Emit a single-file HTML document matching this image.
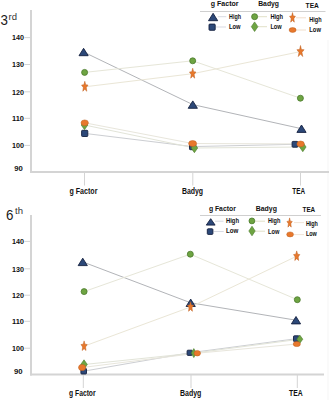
<!DOCTYPE html>
<html><head><meta charset="utf-8"><style>
html,body{margin:0;padding:0;background:#fff;width:329px;height:400px;overflow:hidden}
svg{display:block;font-family:"Liberation Sans",sans-serif}
</style></head><body>
<svg width="329" height="400" viewBox="0 0 329 400">
<rect width="329" height="400" fill="#fff"/>
<rect x="327.5" y="40" width="1" height="360" fill="#F6F6F6"/>
<rect x="30" y="10" width="2" height="163" fill="#D4D4D4"/>
<rect x="30" y="171" width="299" height="2" fill="#D4D4D4"/>
<rect x="24.5" y="37.10" width="5.5" height="1" fill="#D4D4D4"/>
<text x="24" y="40.30" font-size="7.4" font-weight="bold" text-anchor="end" fill="#111111" textLength="12" lengthAdjust="spacingAndGlyphs">140</text>
<rect x="24.5" y="64.00" width="5.5" height="1" fill="#D4D4D4"/>
<text x="24" y="67.20" font-size="7.4" font-weight="bold" text-anchor="end" fill="#111111" textLength="12" lengthAdjust="spacingAndGlyphs">130</text>
<rect x="24.5" y="91.30" width="5.5" height="1" fill="#D4D4D4"/>
<text x="24" y="94.50" font-size="7.4" font-weight="bold" text-anchor="end" fill="#111111" textLength="12" lengthAdjust="spacingAndGlyphs">120</text>
<rect x="24.5" y="117.80" width="5.5" height="1" fill="#D4D4D4"/>
<text x="24" y="121.00" font-size="7.4" font-weight="bold" text-anchor="end" fill="#111111" textLength="12" lengthAdjust="spacingAndGlyphs">110</text>
<rect x="24.5" y="144.90" width="5.5" height="1" fill="#D4D4D4"/>
<text x="24" y="148.10" font-size="7.4" font-weight="bold" text-anchor="end" fill="#111111" textLength="12" lengthAdjust="spacingAndGlyphs">100</text>
<text x="14.2" y="170.80" font-size="7.4" font-weight="bold" text-anchor="start" fill="#111111" textLength="8.6" lengthAdjust="spacingAndGlyphs">90</text>
<rect x="84.00" y="172" width="1" height="13.5" fill="#D4D4D4"/>
<text x="69.50" y="194.00" font-size="8.6" font-weight="bold" text-anchor="start" fill="#111111" textLength="27.9" lengthAdjust="spacingAndGlyphs">g Factor</text>
<rect x="192.30" y="172" width="1" height="13.5" fill="#D4D4D4"/>
<text x="181.90" y="194.00" font-size="8.6" font-weight="bold" text-anchor="start" fill="#111111" textLength="21.2" lengthAdjust="spacingAndGlyphs">Badyg</text>
<rect x="300.00" y="172" width="1" height="13.5" fill="#D4D4D4"/>
<text x="292.30" y="194.00" font-size="8.6" font-weight="bold" text-anchor="start" fill="#111111" textLength="12.7" lengthAdjust="spacingAndGlyphs">TEA</text>
<polyline points="83.60,52.00 192.80,104.60 301.50,128.70" fill="none" stroke="#B2B4B8" stroke-width="1"/>
<polyline points="84.70,133.40 192.60,146.60 295.00,144.30" fill="none" stroke="#CCCED2" stroke-width="1"/>
<polyline points="84.60,72.40 192.70,60.80 300.40,98.20" fill="none" stroke="#E6E6D8" stroke-width="1"/>
<polyline points="84.50,125.00 194.40,148.00 302.80,147.00" fill="none" stroke="#E2E4D8" stroke-width="1"/>
<polyline points="84.80,86.80 192.70,73.70 300.50,51.60" fill="none" stroke="#EAE6D6" stroke-width="1"/>
<polyline points="84.70,122.80 192.60,143.50 300.60,143.90" fill="none" stroke="#E8E6DC" stroke-width="1"/>
<polygon points="79.00,55.70 88.20,55.70 83.60,48.30" fill="#2C4878" stroke="#142040" stroke-width="0.9" stroke-linejoin="miter"/>
<polygon points="188.20,108.30 197.40,108.30 192.80,100.90" fill="#2C4878" stroke="#142040" stroke-width="0.9" stroke-linejoin="miter"/>
<polygon points="296.90,132.40 306.10,132.40 301.50,125.00" fill="#2C4878" stroke="#142040" stroke-width="0.9" stroke-linejoin="miter"/>
<rect x="81.60" y="130.30" width="6.2" height="6.2" rx="0.8" fill="#2C4878" stroke="#142040" stroke-width="0.9"/>
<rect x="189.50" y="143.50" width="6.2" height="6.2" rx="0.8" fill="#2C4878" stroke="#142040" stroke-width="0.9"/>
<rect x="292.10" y="141.40" width="5.8" height="5.8" rx="0.8" fill="#2C4878" stroke="#142040" stroke-width="0.9"/>
<circle cx="84.60" cy="72.40" r="3.0" fill="#6EA442" stroke="#4A7A2C" stroke-width="0.8"/>
<circle cx="192.70" cy="60.80" r="3.0" fill="#6EA442" stroke="#4A7A2C" stroke-width="0.8"/>
<circle cx="300.40" cy="98.20" r="3.0" fill="#6EA442" stroke="#4A7A2C" stroke-width="0.8"/>
<polygon points="84.50,120.30 87.80,125.00 84.50,129.70 81.20,125.00" fill="#6EA442" stroke="#4A7A2C" stroke-width="0.6"/>
<polygon points="194.40,143.30 197.70,148.00 194.40,152.70 191.10,148.00" fill="#6EA442" stroke="#4A7A2C" stroke-width="0.6"/>
<polygon points="302.80,142.30 306.10,147.00 302.80,151.70 299.50,147.00" fill="#6EA442" stroke="#4A7A2C" stroke-width="0.6"/>
<polygon points="84.80,81.30 85.71,84.78 88.04,85.10 86.27,87.57 86.80,91.25 84.80,89.30 82.80,91.25 83.33,87.57 81.56,85.10 83.89,84.78" fill="#E8782C" stroke="#BC5E1E" stroke-width="0.5"/>
<polygon points="192.70,68.20 193.61,71.68 195.94,72.00 194.17,74.47 194.70,78.15 192.70,76.20 190.70,78.15 191.23,74.47 189.46,72.00 191.79,71.68" fill="#E8782C" stroke="#BC5E1E" stroke-width="0.5"/>
<polygon points="300.50,45.50 301.41,49.58 304.10,49.71 301.97,52.37 302.72,56.54 300.50,54.10 298.28,56.54 299.03,52.37 296.90,49.71 299.59,49.58" fill="#E8782C" stroke="#BC5E1E" stroke-width="0.5"/>
<ellipse cx="84.70" cy="122.80" rx="3.7" ry="2.9" fill="#E8782C" stroke="#BC5E1E" stroke-width="0.5"/>
<ellipse cx="192.60" cy="143.50" rx="4" ry="3" fill="#E8782C" stroke="#BC5E1E" stroke-width="0.5"/>
<ellipse cx="300.60" cy="143.90" rx="3.7" ry="2.9" fill="#E8782C" stroke="#BC5E1E" stroke-width="0.5"/>
<text transform="translate(0.5,25.1) scale(0.92,1)" font-size="14.5" font-weight="normal" fill="#1a1a1a">3</text>
<text x="8.6" y="20.1" font-size="9.5" font-weight="normal" fill="#333">rd</text>
<rect x="200" y="11" width="125.5" height="1" fill="#CFCFCF"/>
<text x="210.8" y="5.9" font-size="8" font-weight="bold" text-anchor="start" fill="#111111" textLength="27.8" lengthAdjust="spacingAndGlyphs">g Factor</text>
<text x="258.2" y="5.9" font-size="8" font-weight="bold" text-anchor="start" fill="#111111" textLength="20.8" lengthAdjust="spacingAndGlyphs">Badyg</text>
<text x="305.6" y="7.7" font-size="8" font-weight="bold" text-anchor="start" fill="#111111" textLength="13.3" lengthAdjust="spacingAndGlyphs">TEA</text>
<rect x="217.8" y="16.2" width="8.5" height="1" fill="#D8DAE2"/>
<polygon points="208.50,20.70 217.70,20.70 213.10,13.30" fill="#2C4878" stroke="#142040" stroke-width="0.9" stroke-linejoin="miter"/>
<rect x="216" y="26.5" width="10" height="1" fill="#D8DAE2"/>
<rect x="209.00" y="24.10" width="6.2" height="6.2" rx="0.8" fill="#2C4878" stroke="#142040" stroke-width="0.9"/>
<rect x="258" y="16.2" width="9" height="1" fill="#E2E0C8"/>
<circle cx="254.60" cy="16.70" r="3.0" fill="#6EA442" stroke="#4A7A2C" stroke-width="0.8"/>
<rect x="258" y="26.2" width="9" height="1" fill="#E2E0C8"/>
<polygon points="254.60,21.90 257.90,26.70 254.60,31.50 251.30,26.70" fill="#6EA442" stroke="#4A7A2C" stroke-width="0.6"/>
<rect x="296" y="17.3" width="10" height="1" fill="#F2DFCC"/>
<polygon points="292.50,12.60 293.32,15.96 295.42,16.26 293.82,18.64 294.31,22.19 292.50,20.30 290.69,22.19 291.18,18.64 289.58,16.26 291.68,15.96" fill="#E8782C" stroke="#BC5E1E" stroke-width="0.5"/>
<rect x="296" y="29.5" width="10" height="1" fill="#F2DFCC"/>
<ellipse cx="292.60" cy="30.00" rx="3.5" ry="2.4" fill="#E8782C" stroke="#BC5E1E" stroke-width="0.5"/>
<text x="229.1" y="19.2" font-size="7" font-weight="bold" text-anchor="start" fill="#111111" textLength="11.9" lengthAdjust="spacingAndGlyphs">High</text>
<text x="229.1" y="29.0" font-size="7" font-weight="bold" text-anchor="start" fill="#111111" textLength="11.5" lengthAdjust="spacingAndGlyphs">Low</text>
<text x="270.4" y="19.2" font-size="7" font-weight="bold" text-anchor="start" fill="#111111" textLength="12.7" lengthAdjust="spacingAndGlyphs">High</text>
<text x="270.4" y="29.0" font-size="7" font-weight="bold" text-anchor="start" fill="#111111" textLength="11.3" lengthAdjust="spacingAndGlyphs">Low</text>
<text x="309.3" y="21.8" font-size="7" font-weight="bold" text-anchor="start" fill="#111111" textLength="12.3" lengthAdjust="spacingAndGlyphs">High</text>
<text x="309.3" y="31.7" font-size="7" font-weight="bold" text-anchor="start" fill="#111111" textLength="11.6" lengthAdjust="spacingAndGlyphs">Low</text>
<rect x="30" y="215" width="2" height="160.5" fill="#D4D4D4"/>
<rect x="30" y="373.5" width="294" height="2" fill="#D4D4D4"/>
<rect x="24.5" y="240.90" width="5.5" height="1" fill="#D4D4D4"/>
<text x="24" y="244.10" font-size="7.4" font-weight="bold" text-anchor="end" fill="#111111" textLength="12" lengthAdjust="spacingAndGlyphs">140</text>
<rect x="24.5" y="268.30" width="5.5" height="1" fill="#D4D4D4"/>
<text x="24" y="271.50" font-size="7.4" font-weight="bold" text-anchor="end" fill="#111111" textLength="12" lengthAdjust="spacingAndGlyphs">130</text>
<rect x="24.5" y="294.70" width="5.5" height="1" fill="#D4D4D4"/>
<text x="24" y="297.90" font-size="7.4" font-weight="bold" text-anchor="end" fill="#111111" textLength="12" lengthAdjust="spacingAndGlyphs">120</text>
<rect x="24.5" y="320.80" width="5.5" height="1" fill="#D4D4D4"/>
<text x="24" y="324.00" font-size="7.4" font-weight="bold" text-anchor="end" fill="#111111" textLength="12" lengthAdjust="spacingAndGlyphs">110</text>
<rect x="24.5" y="347.70" width="5.5" height="1" fill="#D4D4D4"/>
<text x="24" y="350.90" font-size="7.4" font-weight="bold" text-anchor="end" fill="#111111" textLength="12" lengthAdjust="spacingAndGlyphs">100</text>
<text x="14.0" y="373.80" font-size="7.4" font-weight="bold" text-anchor="start" fill="#111111" textLength="8.6" lengthAdjust="spacingAndGlyphs">90</text>
<rect x="82.80" y="374.5" width="1" height="13.5" fill="#D4D4D4"/>
<text x="69.10" y="396.00" font-size="8.6" font-weight="bold" text-anchor="start" fill="#111111" textLength="26.5" lengthAdjust="spacingAndGlyphs">g Factor</text>
<rect x="190.50" y="374.5" width="1" height="13.5" fill="#D4D4D4"/>
<text x="180.00" y="396.00" font-size="8.6" font-weight="bold" text-anchor="start" fill="#111111" textLength="21.4" lengthAdjust="spacingAndGlyphs">Badyg</text>
<rect x="296.80" y="374.5" width="1" height="13.5" fill="#D4D4D4"/>
<text x="289.00" y="396.00" font-size="8.6" font-weight="bold" text-anchor="start" fill="#111111" textLength="13.7" lengthAdjust="spacingAndGlyphs">TEA</text>
<polyline points="82.75,261.90 190.70,302.80 296.00,320.20" fill="none" stroke="#B2B4B8" stroke-width="1"/>
<polyline points="83.70,371.20 189.70,352.80 296.40,338.70" fill="none" stroke="#CCCED2" stroke-width="1"/>
<polyline points="84.10,291.60 190.30,254.20 297.30,299.70" fill="none" stroke="#E6E6D8" stroke-width="1"/>
<polyline points="84.00,364.50 193.80,353.10 299.80,339.20" fill="none" stroke="#E2E4D8" stroke-width="1"/>
<polyline points="84.10,346.20 190.50,307.00 296.70,256.20" fill="none" stroke="#EAE6D6" stroke-width="1"/>
<polyline points="82.10,367.50 197.30,353.20 296.80,344.00" fill="none" stroke="#E8E6DC" stroke-width="1"/>
<polygon points="78.15,265.60 87.35,265.60 82.75,258.20" fill="#2C4878" stroke="#142040" stroke-width="0.9" stroke-linejoin="miter"/>
<polygon points="186.10,306.50 195.30,306.50 190.70,299.10" fill="#2C4878" stroke="#142040" stroke-width="0.9" stroke-linejoin="miter"/>
<polygon points="291.40,323.90 300.60,323.90 296.00,316.50" fill="#2C4878" stroke="#142040" stroke-width="0.9" stroke-linejoin="miter"/>
<rect x="80.90" y="368.40" width="5.6" height="5.6" rx="0.8" fill="#2C4878" stroke="#142040" stroke-width="0.9"/>
<rect x="187.10" y="350.20" width="5.2" height="5.2" rx="0.8" fill="#2C4878" stroke="#142040" stroke-width="0.9"/>
<rect x="293.50" y="335.80" width="5.8" height="5.8" rx="0.8" fill="#2C4878" stroke="#142040" stroke-width="0.9"/>
<circle cx="84.10" cy="291.60" r="3.0" fill="#6EA442" stroke="#4A7A2C" stroke-width="0.8"/>
<circle cx="190.30" cy="254.20" r="3.0" fill="#6EA442" stroke="#4A7A2C" stroke-width="0.8"/>
<circle cx="297.30" cy="299.70" r="3.0" fill="#6EA442" stroke="#4A7A2C" stroke-width="0.8"/>
<polygon points="84.00,359.80 87.30,364.50 84.00,369.20 80.70,364.50" fill="#6EA442" stroke="#4A7A2C" stroke-width="0.6"/>
<polygon points="193.80,348.60 196.40,353.10 193.80,357.60 191.20,353.10" fill="#6EA442" stroke="#4A7A2C" stroke-width="0.6"/>
<polygon points="299.80,335.10 302.80,339.20 299.80,343.30 296.80,339.20" fill="#6EA442" stroke="#4A7A2C" stroke-width="0.6"/>
<polygon points="84.10,340.90 85.01,344.18 87.23,344.56 85.57,346.97 86.03,350.49 84.10,348.70 82.17,350.49 82.63,346.97 80.97,344.56 83.19,344.18" fill="#E8782C" stroke="#BC5E1E" stroke-width="0.5"/>
<polygon points="190.50,301.70 191.41,304.98 193.63,305.36 191.97,307.77 192.43,311.29 190.50,309.50 188.57,311.29 189.03,307.77 187.37,305.36 189.59,304.98" fill="#E8782C" stroke="#BC5E1E" stroke-width="0.5"/>
<polygon points="296.70,250.90 297.61,254.18 299.83,254.56 298.17,256.97 298.63,260.49 296.70,258.70 294.77,260.49 295.23,256.97 293.57,254.56 295.79,254.18" fill="#E8782C" stroke="#BC5E1E" stroke-width="0.5"/>
<ellipse cx="82.10" cy="367.50" rx="3.6" ry="3.1" fill="#E8782C" stroke="#BC5E1E" stroke-width="0.5"/>
<ellipse cx="197.30" cy="353.20" rx="3.2" ry="2.8" fill="#E8782C" stroke="#BC5E1E" stroke-width="0.5"/>
<ellipse cx="296.80" cy="344.00" rx="3.6" ry="2.6" fill="#E8782C" stroke="#BC5E1E" stroke-width="0.5"/>
<text transform="translate(6.0,219.9) scale(0.92,1)" font-size="14.5" font-weight="normal" fill="#1a1a1a">6</text>
<text x="15" y="214.4" font-size="9.5" font-weight="normal" fill="#333">th</text>
<rect x="200" y="215" width="121" height="1" fill="#CFCFCF"/>
<text x="208.9" y="210.7" font-size="8" font-weight="bold" text-anchor="start" fill="#111111" textLength="26.9" lengthAdjust="spacingAndGlyphs">g Factor</text>
<text x="255.7" y="210.8" font-size="8" font-weight="bold" text-anchor="start" fill="#111111" textLength="21.2" lengthAdjust="spacingAndGlyphs">Badyg</text>
<text x="302.5" y="212.0" font-size="8" font-weight="bold" text-anchor="start" fill="#111111" textLength="12.7" lengthAdjust="spacingAndGlyphs">TEA</text>
<rect x="215" y="220.7" width="8.5" height="1" fill="#D8DAE2"/>
<polygon points="206.30,225.10 215.10,225.10 210.70,218.70" fill="#2C4878" stroke="#142040" stroke-width="0.9" stroke-linejoin="miter"/>
<rect x="213.7" y="231" width="10" height="1" fill="#D8DAE2"/>
<rect x="207.30" y="228.80" width="5.6" height="5.6" rx="0.8" fill="#2C4878" stroke="#142040" stroke-width="0.9"/>
<rect x="255" y="220.7" width="10" height="1" fill="#E2E0C8"/>
<circle cx="251.90" cy="220.90" r="2.9" fill="#6EA442" stroke="#4A7A2C" stroke-width="0.8"/>
<rect x="255" y="230.7" width="10" height="1" fill="#E2E0C8"/>
<polygon points="252.00,226.20 255.20,231.00 252.00,235.80 248.80,231.00" fill="#6EA442" stroke="#4A7A2C" stroke-width="0.6"/>
<rect x="294" y="222.1" width="10" height="1" fill="#F0E4D8"/>
<polygon points="289.60,217.90 290.34,221.14 292.27,221.42 290.80,223.71 291.25,227.13 289.60,225.30 287.95,227.13 288.40,223.71 286.93,221.42 288.86,221.14" fill="#E8782C" stroke="#BC5E1E" stroke-width="0.5"/>
<rect x="294" y="234.1" width="10" height="1" fill="#F0E4D8"/>
<ellipse cx="290.10" cy="234.40" rx="3.4" ry="2.5" fill="#E8782C" stroke="#BC5E1E" stroke-width="0.5"/>
<text x="226" y="223.3" font-size="7" font-weight="bold" text-anchor="start" fill="#111111" textLength="13" lengthAdjust="spacingAndGlyphs">High</text>
<text x="226" y="233.3" font-size="7" font-weight="bold" text-anchor="start" fill="#111111" textLength="12.3" lengthAdjust="spacingAndGlyphs">Low</text>
<text x="268" y="223.0" font-size="7" font-weight="bold" text-anchor="start" fill="#111111" textLength="12.4" lengthAdjust="spacingAndGlyphs">High</text>
<text x="268" y="233.5" font-size="7" font-weight="bold" text-anchor="start" fill="#111111" textLength="11.4" lengthAdjust="spacingAndGlyphs">Low</text>
<text x="305.9" y="226.2" font-size="7" font-weight="bold" text-anchor="start" fill="#111111" textLength="12" lengthAdjust="spacingAndGlyphs">High</text>
<text x="305.9" y="235.8" font-size="7" font-weight="bold" text-anchor="start" fill="#111111" textLength="10.9" lengthAdjust="spacingAndGlyphs">Low</text>
</svg>
</body></html>
